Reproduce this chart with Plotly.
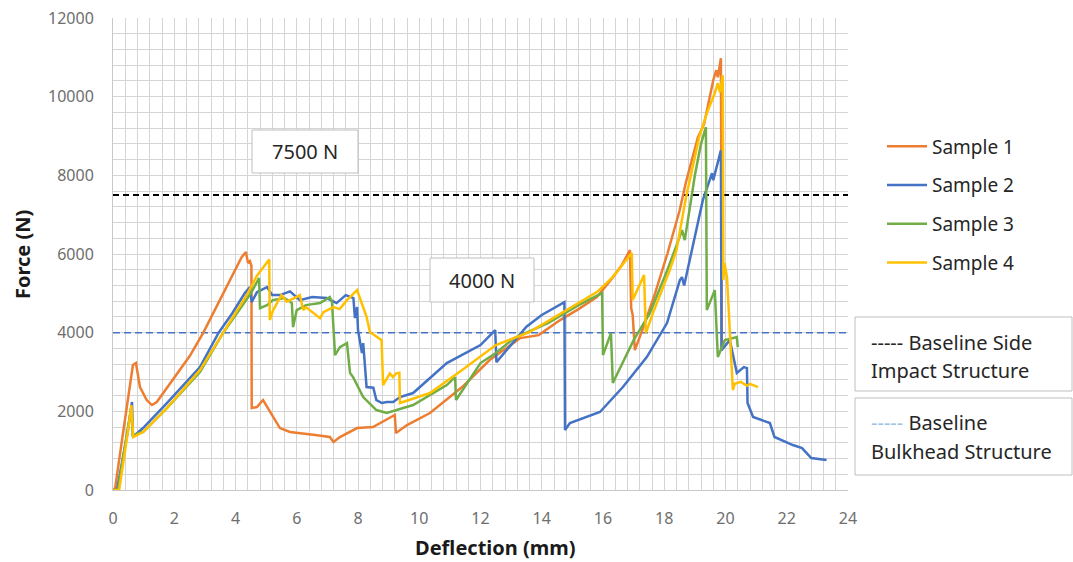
import plotly.graph_objects as go

# ---------------- data ----------------
s1_x = [0.0, 0.07, 0.3, 0.49, 0.65, 0.75, 0.88, 1.1, 1.27, 1.43, 2.0, 2.5, 2.95, 3.5, 3.92, 4.2, 4.34,
        4.41, 4.47, 4.52, 4.53, 4.7, 4.9, 5.1, 5.45, 5.78, 6.1, 6.6, 7.08, 7.2, 7.41, 7.97, 8.49, 9.04,
        9.2, 9.24, 9.6, 10.35, 11.4, 12.3, 13.3, 13.9, 14.6, 15.2, 15.8, 16.3, 16.6, 16.88, 16.92, 16.97,
        17.04, 17.3, 17.7, 18.1, 18.5, 18.7, 19.0, 19.1, 19.3, 19.6, 19.7, 19.75, 19.85, 19.88]
s1_y = [0, 50, 1300, 2363, 3176, 3227, 2617, 2287, 2160, 2236, 2850, 3400, 4000, 4850, 5500, 5921, 6048,
        5768, 5819, 5700, 2084, 2109, 2287, 2033, 1575, 1474, 1448, 1398, 1347, 1220, 1347, 1575, 1601, 1830,
        1906, 1448, 1650, 1957, 2617, 3303, 3862, 3938, 4320, 4600, 4904, 5387, 5700, 6098, 4625, 4447,
        3557, 4100, 5000, 6000, 7100, 7800, 8700, 8970, 9300, 10418, 10672, 10494, 10977, 3557]

s2_x = [0.0, 0.13, 0.49, 0.62, 0.65, 0.98, 1.76, 2.84, 3.45, 3.9, 4.3, 4.47, 4.53, 4.7, 5.03, 5.2, 5.45,
        5.78, 6.1, 6.5, 6.98, 7.3, 7.6, 7.85, 7.9, 7.97, 8.0, 8.13, 8.17, 8.28, 8.5, 8.6, 8.78, 8.94, 9.15,
        9.37, 9.8, 10.9, 12.0, 12.48, 12.52, 13.0, 13.5, 14.0, 14.74, 14.76, 14.92, 15.9, 16.65, 17.43,
        18.09, 18.51, 18.58, 18.65, 19.26, 19.56, 19.6, 19.85, 19.87, 20.14, 20.37, 20.6, 20.7, 20.72,
        20.9, 21.45, 21.6, 22.2, 22.5, 22.8, 23.3]
s2_y = [0, 0, 1525, 2236, 1347, 1575, 2211, 3125, 4000, 4500, 5000, 5158, 4777, 5031, 5158, 4955, 4955,
        5050, 4828, 4904, 4880, 4752, 4955, 4880, 4370, 4650, 4066, 3481, 3735, 2617, 2600, 2287, 2211,
        2236, 2236, 2363, 2465, 3227, 3684, 4066, 3252, 3700, 4150, 4450, 4777, 1525, 1702, 1982, 2617,
        3380, 4243, 5336, 5412, 5200, 7369, 8055, 7877, 8639, 3557, 3811, 2973, 3125, 3100, 2210, 1855,
        1702, 1347, 1143, 1067, 813, 762]

s3_x = [0.0, 0.16, 0.49, 0.6, 0.65, 0.98, 1.76, 2.84, 3.6, 4.0, 4.5, 4.77, 4.8, 5.03, 5.22, 5.6, 5.84,
        5.88, 6.0, 6.3, 6.76, 7.08, 7.15, 7.25, 7.41, 7.64, 7.74, 7.84, 8.17, 8.6, 8.94, 9.8, 10.9, 11.17,
        11.2, 12.0, 12.5, 13.1, 14.2, 15.2, 15.97, 16.0, 16.26, 16.32, 17.0, 17.53, 18.1, 18.5, 18.58,
        18.67, 19.0, 19.2, 19.36, 19.39, 19.65, 19.75, 19.98, 20.37, 20.4]
s3_y = [0, 0, 1600, 2109, 1400, 1474, 2084, 3000, 4000, 4450, 5000, 5387, 4625, 4701, 4828, 4879, 4752,
        4142, 4574, 4701, 4752, 4904, 4777, 3430, 3634, 3735, 2973, 2871, 2363, 2033, 1957, 2160, 2668, 2871,
        2287, 3227, 3481, 3862, 4243, 4701, 5006, 3430, 3989, 2719, 3811, 4498, 5590, 6429, 6607,
        6353, 8000, 8800, 9224, 4574, 5082, 3380, 3811, 3888, 3634]

s4_x = [0.0, 0.2, 0.49, 0.6, 0.66, 0.98, 1.76, 2.84, 3.6, 4.0, 4.4, 4.7, 5.1, 5.12, 5.23, 5.5, 5.67, 5.9,
        6.1, 6.21, 6.3, 6.76, 6.87, 7.2, 7.4, 7.64, 7.97, 8.28, 8.39, 8.77, 8.82, 9.04, 9.14, 9.25, 9.35,
        9.37, 10.35, 11.4, 12.5, 13.6, 14.7, 15.8, 16.3, 16.7, 16.94, 16.97, 17.34, 17.4, 17.63, 18.18,
        18.4, 18.7, 19.0, 19.15, 19.4, 19.65, 19.75, 19.82, 19.91, 19.93, 19.97, 20.05, 20.24, 20.3, 20.5,
        20.7, 20.8, 21.06]
s4_y = [0, 0, 1500, 2160, 1347, 1474, 2084, 3049, 4000, 4500, 5000, 5450, 5862, 4320, 4574, 4955, 4786,
        4870, 4955, 4574, 4650, 4370, 4523, 4650, 4600, 4828, 5082, 4404, 4015, 3811, 2668, 2965, 2871,
        2965, 2980, 2211, 2465, 3049, 3684, 4015, 4523, 5031, 5400, 5800, 6022, 4828, 5463, 3989, 4498,
        5590, 6098, 7400, 8500, 9000, 9600, 10088, 10342, 10113, 10545, 5336, 5768, 5400, 2541, 2700,
        2750, 2650, 2700, 2617]

sample_names = ["Sample 1", "Sample 2", "Sample 3", "Sample 4"]
sample_colors = ["#ED7D31", "#4472C4", "#70AD47", "#FFC000"]

baseline_side = 7500      # N
baseline_bulkhead = 4000  # N
x_range = [0, 24]
y_range = [0, 12000]
x_ticks = list(range(0, 25, 2))
y_ticks = list(range(0, 12001, 2000))

# ---------------- figure ----------------
FONT = "Noto Sans"
W, H = 1073, 562
L, R, T, B = 113, 848, 18, 490   # plot area in pixels


def px(xp):
    return xp / W


def py(yp):
    return 1 - yp / H


fig = go.Figure()

# baselines
fig.add_trace(go.Scatter(x=x_range, y=[baseline_side] * 2, mode="lines",
                         line=dict(color="#000000", width=2, dash="6px,4px"),
                         showlegend=False, hoverinfo="skip"))
fig.add_trace(go.Scatter(x=x_range, y=[baseline_bulkhead] * 2, mode="lines",
                         line=dict(color="#4472C4", width=1.5, dash="7px,4px"),
                         showlegend=False, hoverinfo="skip"))

for name, col, xs, ys in zip(sample_names, sample_colors,
                             [s1_x, s2_x, s3_x, s4_x], [s1_y, s2_y, s3_y, s4_y]):
    fig.add_trace(go.Scatter(x=xs, y=ys, mode="lines", name=name, legendgroup=name,
                             line=dict(color=col, width=2.5)))

grid = "#d4d4d4"
fig.update_xaxes(range=x_range, tickvals=x_ticks, domain=[px(L), px(R)], automargin=False,
                 showgrid=True, gridcolor=grid, gridwidth=1,
                 minor=dict(dtick=0.4, showgrid=True, gridcolor=grid, gridwidth=1),
                 zeroline=False, showline=True, linecolor="#c8c8c8", linewidth=1,
                 ticks="", ticklabelstandoff=14,
                 tickfont=dict(family=FONT, size=16, color="#6e6e6e"))
fig.update_yaxes(range=y_range, tickvals=y_ticks, tickformat="d", domain=[py(B), py(T)],
                 automargin=False, showgrid=True, gridcolor=grid, gridwidth=1,
                 minor=dict(dtick=400, showgrid=True, gridcolor=grid, gridwidth=1),
                 zeroline=False, showline=True, linecolor="#c8c8c8", linewidth=1,
                 ticks="", ticklabelstandoff=15,
                 tickfont=dict(family=FONT, size=16, color="#6e6e6e"))

shapes = []
annots = []
txt = "#262626"


def box(x0, y0, x1, y1):
    shapes.append(dict(type="rect", xref="paper", yref="paper",
                       x0=px(x0), x1=px(x1), y0=py(y1), y1=py(y0),
                       line=dict(color="#bfbfbf", width=1), fillcolor="white", layer="above"))


box(252, 130, 358, 173)
annots.append(dict(text="7500 N", x=px(305), y=py(151.5), xref="paper", yref="paper",
                   xanchor="center", yanchor="middle",
                   showarrow=False, font=dict(family=FONT, size=20, color=txt)))
box(430, 258, 534, 302)
annots.append(dict(text="4000 N", x=px(482), y=py(280), xref="paper", yref="paper",
                   xanchor="center", yanchor="middle",
                   showarrow=False, font=dict(family=FONT, size=20, color=txt)))

box(855, 317, 1072, 391)
box(855, 398, 1072, 475)
for t, yy in [("----- Baseline Side", 342), ("Impact Structure", 370),
              ("<span style='color:#9dc3e6'>-----</span> Baseline", 422),
              ("Bulkhead Structure", 451)]:
    annots.append(dict(text=t, x=px(869), y=py(yy), xref="paper", yref="paper",
                       xanchor="left", yanchor="middle", showarrow=False,
                       font=dict(family=FONT, size=20, color=txt)))

# axis titles
annots.append(dict(text="<b>Deflection (mm)</b>", x=px(495), y=py(547), xref="paper", yref="paper",
                   showarrow=False, xanchor="center", yanchor="middle", borderpad=0,
                   font=dict(family=FONT, size=20, color="#1a1a1a")))
annots.append(dict(text="<b>Force (N)</b>", x=px(22), y=py(255), xref="paper", yref="paper",
                   showarrow=False, textangle=-90, xanchor="center", yanchor="middle",
                   font=dict(family=FONT, size=20, color="#1a1a1a")))

fig.update_layout(
    width=W, height=H,
    margin=dict(l=0, r=0, t=0, b=0, pad=0),
    paper_bgcolor="white", plot_bgcolor="white",
    shapes=shapes, annotations=annots,
    legend=dict(x=px(882), y=py(127.5), xanchor="left", yanchor="top",
                font=dict(family=FONT, size=19, color=txt),
                tracegroupgap=11, itemwidth=40, bgcolor="rgba(0,0,0,0)"),
)

fig.write_html("out.html", config={"displayModeBar": False},
               post_script="document.body.style.margin='0';document.body.style.padding='0';"
                           "document.body.style.overflow='hidden';")
